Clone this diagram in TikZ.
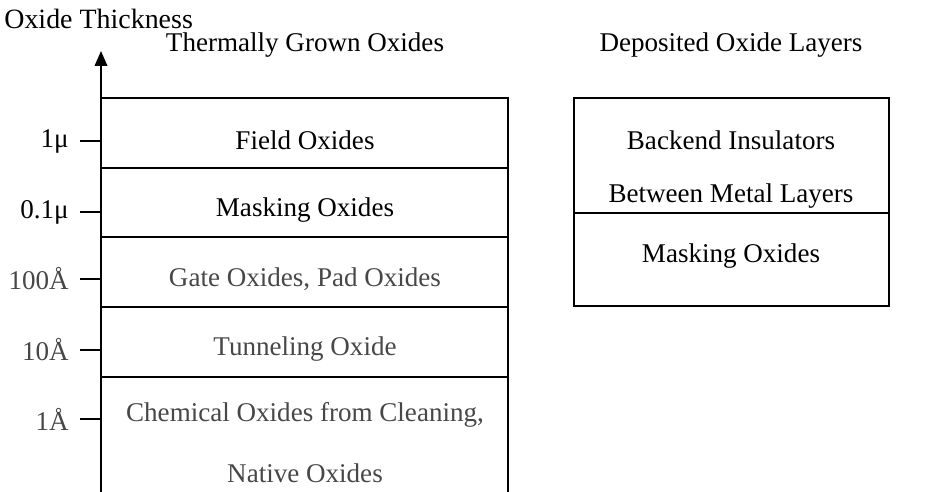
\documentclass[tikz,border=0pt]{standalone}
\usepackage{fontspec}
\setmainfont{Liberation Serif}
\usetikzlibrary{arrows.meta}

\tikzset{
  lbl/.style={font=\fontsize{15.4}{18}\selectfont, inner sep=0pt},
  ticklbl/.style={lbl, anchor=east},
  faded/.style={text=black!72},
  rule/.style={line width=1.1pt},
  tickmark/.style={line width=1.1pt},
}

\begin{document}
\begin{tikzpicture}[x=0.02cm, y=-0.02cm]
\useasboundingbox (0,0) rectangle (947,492);
%\draw[style=help lines, step=50] (0,0) grid (947,492);

\node[lbl, anchor=west, font=\fontsize{15.9}{18}\selectfont] (axistitle) at (4,19) {Oxide Thickness};

% axis
\coordinate (axisbot) at (101,492);
\coordinate (axistop) at (101,51);
\draw[rule, -{Triangle[length=3mm, width=2.5mm]}] (axisbot)--(axistop);

% thermal column
\node[lbl] (thermal) at (305,45) {Thermally Grown Oxides};
\draw[rule] (101,98)--(508,98)--(508,492);
\draw[rule] (101,168)--(508,168);
\draw[rule] (101,237)--(508,237);
\draw[rule] (101,307)--(508,307);
\draw[rule] (101,377)--(508,377);
	\node[lbl] (field) at (305,140) {Field Oxides};
	\node[lbl] (mask) at (305,210) {Masking Oxides};
	\node[lbl, faded] (gate) at (305,279) {Gate Oxides, Pad Oxides};
	\node[lbl, faded] (tunnel) at (305,349) {Tunneling Oxide};
	\node[lbl, faded] (chem) at (305,415) {Chemical Oxides from Cleaning,};
	\node[lbl, faded] (native) at (305,473) {Native Oxides};

% ticks
\node[ticklbl] (t1mu) at (69,141) {1μ};
\draw[tickmark] (80,141)--(t1mu -| axisbot);
\node[ticklbl] (t01mu) at (69,212) {0.1μ};
\draw[tickmark] (80,212)--(t01mu -| axisbot);
\node[ticklbl, faded] (t100) at (69,279) {100Å};
\draw[tickmark] (80,279)--(t100 -| axisbot);
\node[ticklbl, faded] (t10) at (69,350) {10Å};
\draw[tickmark] (80,350)--(t10 -| axisbot);
\node[ticklbl, faded] (t1) at (69,419) {1Å};
\draw[tickmark] (80,419)--(t1 -| axisbot);

% deposited column
\node[lbl] (deposited) at (731,45) {Deposited Oxide Layers};
\draw[rule] (574,98) rectangle (889,306);
\draw[rule] (574,213)--(889,213);
	\node[lbl] (backend) at (731,140) {Backend Insulators};
	\node[lbl] (between) at (731,196) {Between Metal Layers};
	\node[lbl] (mask2) at (731,256) {Masking Oxides};

\end{tikzpicture}
\end{document}
